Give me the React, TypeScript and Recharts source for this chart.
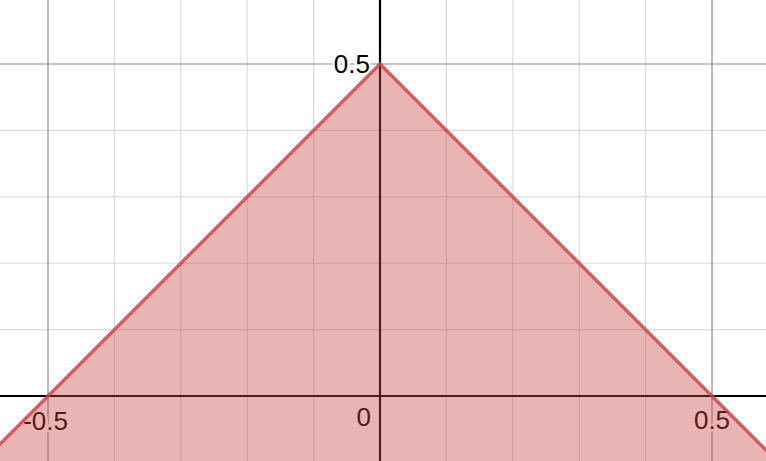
import React from 'react';
import { ComposedChart, Area, XAxis, YAxis, ReferenceLine, ReferenceDot } from 'recharts';

// Visible window (graph units)
const X_DOMAIN: [number, number] = [-0.5723, 0.5813];
const Y_DOMAIN: [number, number] = [-0.0979, 0.5964];

// Curve y = 0.5 - |x| (vertices); region below it is shaded
const curveX = [-0.6, 0, 0.6];
const curveY = [-0.1, 0.5, -0.1];

// Grid
const minorX = [-0.4, -0.3, -0.2, -0.1, 0.1, 0.2, 0.3, 0.4];
const majorX = [-0.5, 0.5];
const minorY = [0.1, 0.2, 0.3, 0.4];
const majorY = [0.5];

// Tick labels
const labelX = [0, -0.5, 0, 0.5];
const labelY = [0.5, 0, 0, 0];
const labelText = ['0.5', '-0.5', '0', '0.5'];

const W = 766;
const H = 461;
const RED = '#c74440';
const FONT = '"Liberation Sans", Arial, Helvetica, sans-serif';

const data = curveX.map((x, i) => ({ x, y: curveY[i] }));

const labelStyle = [
  { anchor: 'end', dx: -10, dy: 9 },
  { anchor: 'end', dx: 20, dy: 34 },
  { anchor: 'end', dx: -9, dy: 30 },
  { anchor: 'middle', dx: 0, dy: 33 },
];

export default function App() {
  return (
    <div style={{ position: 'absolute', left: 0, top: 0, width: W, height: H, background: '#fff' }}>
      <div style={{ position: 'absolute', left: 0, top: 0 }}>
        <ComposedChart width={W} height={H} data={data} margin={{ top: 0, right: 0, bottom: 0, left: 0 }}>
          <XAxis type="number" dataKey="x" domain={X_DOMAIN} allowDataOverflow hide />
          <YAxis type="number" dataKey="y" domain={Y_DOMAIN} allowDataOverflow hide />
          {minorX.map((v) => (
            <ReferenceLine key={'mx' + v} x={v} stroke="#dcdcdc" strokeWidth={1.2} />
          ))}
          {minorY.map((v) => (
            <ReferenceLine key={'my' + v} y={v} stroke="#dcdcdc" strokeWidth={1.2} />
          ))}
          {majorX.map((v) => (
            <ReferenceLine key={'Mx' + v} x={v} stroke="#8c8c8c" strokeWidth={1.2} />
          ))}
          {majorY.map((v) => (
            <ReferenceLine key={'My' + v} y={v} stroke="#8c8c8c" strokeWidth={1.2} />
          ))}
          {labelText.map((t, i) => (
            <ReferenceDot
              key={'lb' + i}
              x={labelX[i]}
              y={labelY[i]}
              r={0}
              shape={(p: any) => (
                <text
                  x={p.cx + labelStyle[i].dx}
                  y={p.cy + labelStyle[i].dy}
                  textAnchor={labelStyle[i].anchor as any}
                  fontFamily={FONT}
                  fontSize={26}
                  fill="#000"
                  stroke="#fff"
                  strokeWidth={5}
                  strokeLinejoin="round"
                  paintOrder="stroke"
                >
                  {t}
                </text>
              )}
            />
          ))}
          <ReferenceLine x={0} stroke="#000" strokeWidth={2.2} />
          <ReferenceLine y={0} stroke="#000" strokeWidth={2.2} />
        </ComposedChart>
      </div>
      <div style={{ position: 'absolute', left: 0, top: 0 }}>
        <ComposedChart width={W} height={H} data={data} margin={{ top: 0, right: 0, bottom: 0, left: 0 }}>
          <XAxis type="number" dataKey="x" domain={X_DOMAIN} allowDataOverflow hide />
          <YAxis type="number" dataKey="y" domain={Y_DOMAIN} allowDataOverflow hide />
          <Area
            type="linear"
            dataKey="y"
            baseValue="dataMin"
            fill={RED}
            fillOpacity={0.4}
            stroke={RED}
            strokeOpacity={0.8}
            strokeWidth={3.5}
            dot={false}
            activeDot={false}
            isAnimationActive={false}
          />
        </ComposedChart>
      </div>
    </div>
  );
}
